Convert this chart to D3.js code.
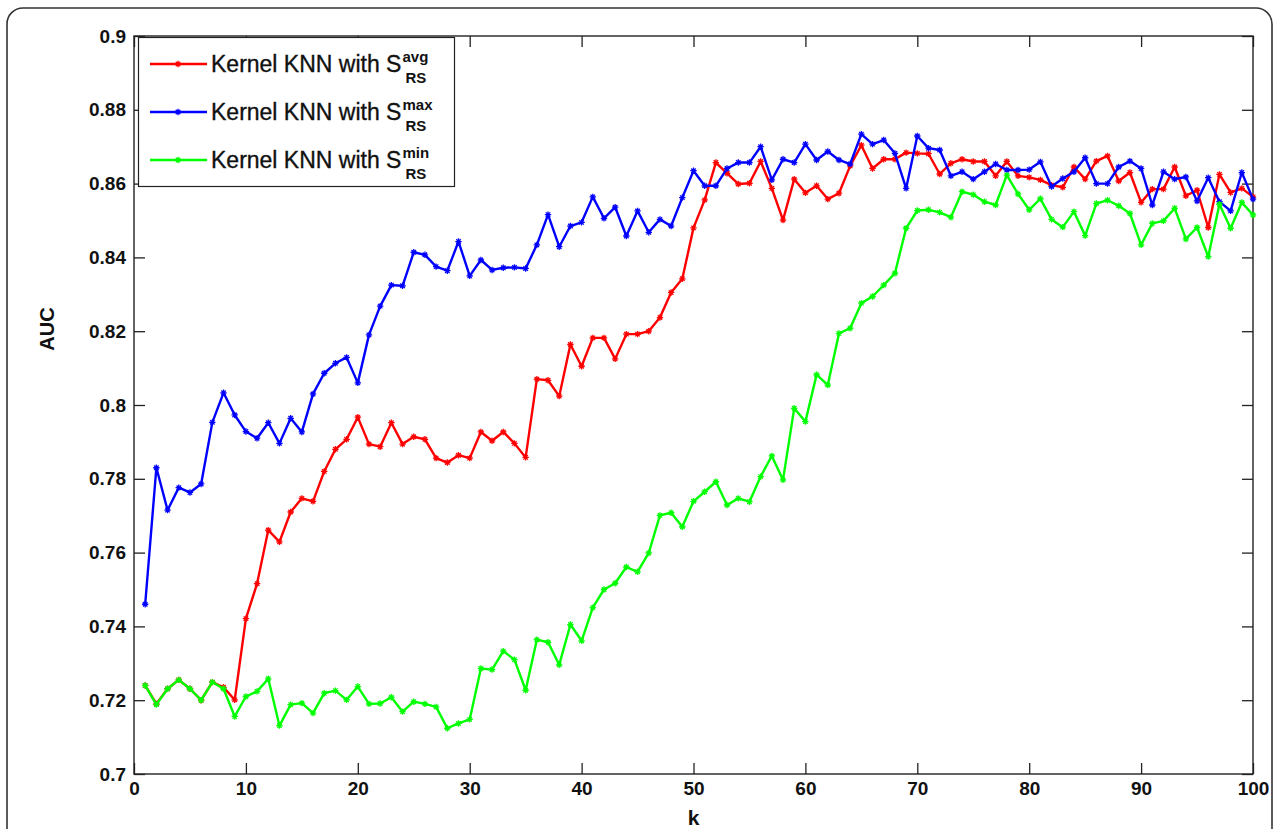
<!DOCTYPE html>
<html>
<head>
<meta charset="utf-8">
<script src="https://cdn.jsdelivr.net/npm/d3@7"></script>
<style>
  html, body { margin: 0; padding: 0; background: #fff; }
  svg { display: block; }
  text { font-family: Arial, "Liberation Sans", Helvetica, sans-serif; }
</style>
</head>
<body>
<svg id="chart" width="1279" height="829"></svg>
<script>
// Neighbourhood size k
const kValues = d3.range(1, 101);

// AUC for each similarity variant
const aucAvg = [
  0.724, 0.719, 0.7231, 0.7255, 0.7231, 0.720, 0.7249, 0.7235, 0.7201, 0.7421,
  0.7516, 0.7661, 0.7629, 0.771, 0.7747, 0.7739, 0.782, 0.788, 0.7907, 0.7967,
  0.7894, 0.7887, 0.7952, 0.7894, 0.7914, 0.7907, 0.7856, 0.7844, 0.7864, 0.7856,
  0.7927, 0.7903, 0.7927, 0.7896, 0.7858, 0.807, 0.8067, 0.8024, 0.8164, 0.8105,
  0.8182, 0.8182, 0.8125, 0.8192, 0.8192, 0.820, 0.8237, 0.8305, 0.8342, 0.848,
  0.8556, 0.8657, 0.8628, 0.8599, 0.8601, 0.866, 0.8587, 0.8501, 0.8612, 0.8575,
  0.8594, 0.8558, 0.8574, 0.8648, 0.8704, 0.8641, 0.8666, 0.8666, 0.8684, 0.8682,
  0.8681, 0.8626, 0.8655, 0.8666, 0.866, 0.866, 0.8621, 0.866, 0.8621, 0.8617,
  0.861, 0.8596, 0.859, 0.8645, 0.8612, 0.8661, 0.8675, 0.8607, 0.863, 0.8549,
  0.8585, 0.8585, 0.8645, 0.8567, 0.8582, 0.8481, 0.8625, 0.8576, 0.8587, 0.8564
];
const aucMax = [
  0.746, 0.783, 0.7715, 0.7776, 0.7763, 0.7786, 0.7953, 0.8033, 0.7973, 0.7928,
  0.791, 0.7952, 0.7896, 0.7964, 0.7927, 0.803, 0.8086, 0.8113, 0.8129, 0.806,
  0.819, 0.8268, 0.8325, 0.8323, 0.8414, 0.8407, 0.8375, 0.8364, 0.8443, 0.835,
  0.8393, 0.8366, 0.8372, 0.8373, 0.837, 0.8434, 0.8516, 0.8429, 0.8485, 0.8495,
  0.8564, 0.8506, 0.8536, 0.8458, 0.8526, 0.8468, 0.8503, 0.8485, 0.8562, 0.8635,
  0.8594, 0.8594, 0.8641, 0.8657, 0.8657, 0.870, 0.861, 0.8666, 0.8657, 0.8707,
  0.8664, 0.8687, 0.8664, 0.8653, 0.8734, 0.8707, 0.8718, 0.8682, 0.8587, 0.8729,
  0.8696, 0.8691, 0.8621, 0.8632, 0.8612, 0.8632, 0.8653, 0.8637, 0.8637, 0.8638,
  0.8659, 0.8592, 0.8614, 0.8632, 0.867, 0.860, 0.860, 0.8645, 0.8661, 0.8641,
  0.8542, 0.8632, 0.8612, 0.8618, 0.8553, 0.8616, 0.8551, 0.8526, 0.863, 0.8558
];
const aucMin = [
  0.724, 0.7188, 0.7231, 0.7255, 0.7231, 0.720, 0.7249, 0.7231, 0.7156, 0.721,
  0.7224, 0.7258, 0.7131, 0.7188, 0.7192, 0.7165, 0.7219, 0.7226, 0.7201, 0.7237,
  0.719, 0.7191, 0.7208, 0.7169, 0.7196, 0.719, 0.7182, 0.7124, 0.7137, 0.7148,
  0.7286, 0.7283, 0.7333, 0.731, 0.7227, 0.7364, 0.7357, 0.7296, 0.7405, 0.7361,
  0.7451, 0.750, 0.7517, 0.7561, 0.7548, 0.7599, 0.7701, 0.7708, 0.767, 0.7739,
  0.7765, 0.7792, 0.7729, 0.7747, 0.7738, 0.7806, 0.7862, 0.7797, 0.7991, 0.7955,
  0.8082, 0.8054, 0.8194, 0.8208, 0.8276, 0.8294, 0.8325, 0.8357, 0.8479, 0.8527,
  0.8529, 0.8522, 0.8509, 0.8578, 0.857, 0.8551, 0.8542, 0.8623, 0.8572, 0.8529,
  0.8559, 0.8503, 0.8482, 0.8524, 0.8459, 0.8546, 0.8555, 0.854, 0.8519, 0.8434,
  0.8492, 0.8499, 0.8533, 0.845, 0.8481, 0.8402, 0.8544, 0.8479, 0.8549, 0.8515
];

const seriesSup = ["avg", "max", "min"];
const seriesColors = ["#ff0000", "#0000ff", "#00ff00"];
const xTicks = [0, 10, 20, 30, 40, 50, 60, 70, 80, 90, 100];
const xTickLabels = ["0", "10", "20", "30", "40", "50", "60", "70", "80", "90", "100"];
const yTicks = [0.7, 0.72, 0.74, 0.76, 0.78, 0.8, 0.82, 0.84, 0.86, 0.88, 0.9];
const yTickLabels = ["0.7", "0.72", "0.74", "0.76", "0.78", "0.8", "0.82", "0.84", "0.86", "0.88", "0.9"];

const series = [aucAvg, aucMax, aucMin].map((vals, i) => ({
  sup: seriesSup[i],
  color: seriesColors[i],
  points: kValues.map((k, j) => ({ k, v: vals[j] }))
}));

const svg = d3.select("#chart");
const plot = { left: 134, right: 1253, top: 36, bottom: 774 };

const x = d3.scaleLinear().domain([0, 100]).range([plot.left, plot.right]);
const y = d3.scaleLinear().domain([0.7, 0.9]).range([plot.bottom, plot.top]);

// Rounded outer frame
svg.append("rect")
  .attr("x", 7).attr("y", 8)
  .attr("width", 1265).attr("height", 860)
  .attr("rx", 16).attr("ry", 16)
  .attr("fill", "#fff")
  .attr("stroke", "#333").attr("stroke-width", 1.6);

const tickLen = 11;
const axisFont = 19;

// Bottom axis (ticks point inward) plus matching top ticks
const xAxis = d3.axisBottom(x).tickValues(xTicks)
  .tickFormat((d, i) => xTickLabels[i])
  .tickSizeInner(-tickLen).tickSizeOuter(0).tickPadding(8);
const gx = svg.append("g").attr("transform", `translate(0,${plot.bottom})`).call(xAxis);
const xTop = d3.axisTop(x).tickValues(xTicks).tickFormat("")
  .tickSizeInner(-tickLen).tickSizeOuter(0);
const gxt = svg.append("g").attr("transform", `translate(0,${plot.top})`).call(xTop);

const yAxis = d3.axisLeft(y).tickValues(yTicks)
  .tickFormat((d, i) => yTickLabels[i])
  .tickSizeInner(-tickLen).tickSizeOuter(0).tickPadding(8);
const gy = svg.append("g").attr("transform", `translate(${plot.left},0)`).call(yAxis);
const yRight = d3.axisRight(y).tickValues(yTicks).tickFormat("")
  .tickSizeInner(-tickLen).tickSizeOuter(0);
const gyr = svg.append("g").attr("transform", `translate(${plot.right},0)`).call(yRight);

[gx, gxt, gy, gyr].forEach(g => {
  g.select(".domain").remove();
  g.selectAll(".tick line").attr("stroke", "#222").attr("stroke-width", 1.3);
  g.selectAll(".tick text")
    .attr("fill", "#111")
    .attr("font-size", axisFont)
    .attr("font-weight", "bold")
    .attr("font-family", "Arial, 'Liberation Sans', sans-serif");
});

// Box around the plot area
svg.append("rect")
  .attr("x", plot.left).attr("y", plot.top)
  .attr("width", plot.right - plot.left).attr("height", plot.bottom - plot.top)
  .attr("fill", "none").attr("stroke", "#222").attr("stroke-width", 1.4);

// Axis titles
svg.append("text")
  .attr("x", x(50)).attr("y", 825)
  .attr("text-anchor", "middle")
  .attr("font-size", 21).attr("font-weight", "bold").attr("fill", "#111")
  .text("k");
svg.append("text")
  .attr("transform", `translate(54,${y(0.8) - 76}) rotate(-90)`)
  .attr("text-anchor", "middle")
  .attr("font-size", 20).attr("font-weight", "bold").attr("fill", "#111")
  .text("AUC");

// Lines and star markers
const line = d3.line().x(d => x(d.k)).y(d => y(d.v));
const starPath = s => `M${-s},0H${s}M0,${-s}V${s}M${-s * 0.7},${-s * 0.7}L${s * 0.7},${s * 0.7}M${-s * 0.7},${s * 0.7}L${s * 0.7},${-s * 0.7}`;

const lines = svg.append("g");
series.forEach(s => {
  const g = lines.append("g");
  g.append("path")
    .datum(s.points)
    .attr("d", line)
    .attr("fill", "none")
    .attr("stroke", s.color)
    .attr("stroke-width", 2.4)
    .attr("stroke-linejoin", "round");
  g.selectAll("path.marker")
    .data(s.points)
    .join("path")
    .attr("class", "marker")
    .attr("transform", d => `translate(${x(d.k)},${y(d.v)})`)
    .attr("d", starPath(3.2))
    .attr("stroke", s.color)
    .attr("stroke-width", 1.3)
    .attr("fill", "none");
});

// Legend
const legend = svg.append("g");
legend.append("rect")
  .attr("x", 138.5).attr("y", 37.5)
  .attr("width", 316).attr("height", 149)
  .attr("fill", "#fff").attr("stroke", "#222").attr("stroke-width", 1.2);

const rowY = [64, 112, 160];
series.forEach((s, i) => {
  const ry = rowY[i];
  legend.append("line")
    .attr("x1", 150).attr("x2", 207).attr("y1", ry).attr("y2", ry)
    .attr("stroke", s.color).attr("stroke-width", 2.4);
  legend.append("path")
    .attr("transform", `translate(178,${ry})`)
    .attr("d", starPath(3.2))
    .attr("stroke", s.color).attr("stroke-width", 1.3).attr("fill", "none");
  const t = legend.append("text")
    .attr("x", 211).attr("y", ry + 8)
    .attr("font-size", 23).attr("fill", "#111")
    .attr("stroke", "#111").attr("stroke-width", 0.35)
    .text("Kernel KNN with S");
  const sx = 211 + t.node().getComputedTextLength() + 1;
  legend.append("text")
    .attr("x", sx).attr("y", ry - 2)
    .attr("font-size", 15).attr("font-weight", "bold").attr("fill", "#111")
    .text(s.sup);
  legend.append("text")
    .attr("x", sx + 3).attr("y", ry + 19)
    .attr("font-size", 15).attr("font-weight", "bold").attr("fill", "#111")
    .text("RS");
});
</script>
</body>
</html>
